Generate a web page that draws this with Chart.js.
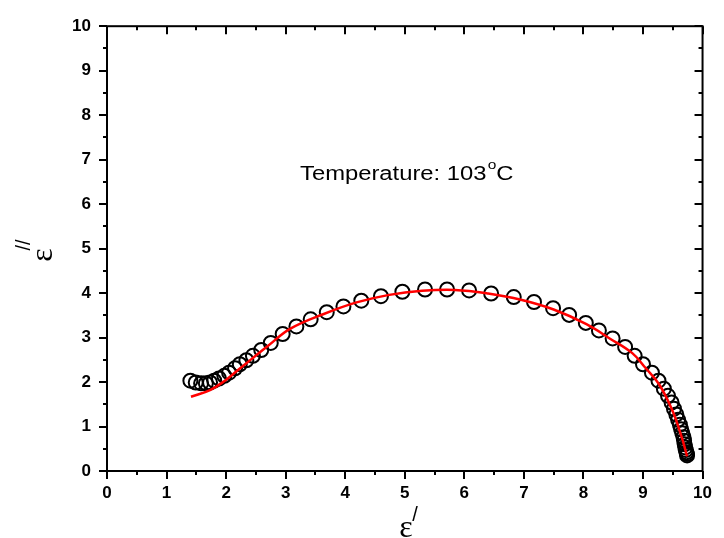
<!DOCTYPE html>
<html lang="en">
<head>
<meta charset="UTF-8">
<title>Cole-Cole plot</title>
<script src="https://cdn.jsdelivr.net/npm/chart.js"></script>
<style>
  html, body { margin: 0; padding: 0; background: #fff; }
  #wrap { width: 724px; height: 538px; }
</style>
</head>
<body>
<div id="wrap"><canvas id="plot" width="724" height="538"></canvas></div>
<script>
// measured permittivity, real part (eps') and imaginary part (eps'')
const epsReal = [1.40, 1.49, 1.58, 1.66, 1.73, 1.80, 1.88, 1.97, 2.05, 2.15, 2.23, 2.34, 2.45, 2.59, 2.75,
  2.95, 3.18, 3.42, 3.69, 3.97, 4.27, 4.60, 4.96, 5.34, 5.71, 6.08, 6.45, 6.83, 7.17, 7.49, 7.76,
  8.04, 8.26, 8.49, 8.70, 8.86, 9.00, 9.15, 9.26, 9.35, 9.42, 9.48, 9.52, 9.56, 9.59, 9.62, 9.64,
  9.66, 9.68, 9.69, 9.70, 9.71, 9.72, 9.73, 9.74, 9.74];
const epsImag = [2.03, 1.99, 1.97, 1.97, 1.99, 2.03, 2.08, 2.14, 2.21, 2.31, 2.40, 2.49, 2.59, 2.72, 2.88,
  3.08, 3.25, 3.41, 3.57, 3.70, 3.83, 3.93, 4.03, 4.08, 4.08, 4.06, 3.99, 3.91, 3.80, 3.66, 3.51,
  3.33, 3.16, 2.98, 2.79, 2.59, 2.40, 2.21, 2.03, 1.85, 1.69, 1.54, 1.40, 1.27, 1.15, 1.04, 0.94,
  0.85, 0.76, 0.68, 0.60, 0.53, 0.47, 0.42, 0.38, 0.35];

// fitted arc
const fitReal = [1.41, 1.73, 1.98, 2.20, 2.42, 2.70, 3.08, 3.64, 4.19, 4.74, 5.29, 5.84, 6.40,
  6.95, 7.50, 8.05, 8.44, 8.82, 9.04, 9.27, 9.49, 9.65, 9.74];
const fitImag = [1.67, 1.82, 2.03, 2.27, 2.51, 2.81, 3.20, 3.53, 3.79, 3.96, 4.05, 4.07, 3.99,
  3.85, 3.63, 3.30, 2.98, 2.65, 2.32, 1.95, 1.37, 0.76, 0.33];

const xTicks = [0, 1, 2, 3, 4, 5, 6, 7, 8, 9, 10];
const yTicks = [0, 1, 2, 3, 4, 5, 6, 7, 8, 9, 10];
const tempText = 'Temperature: 103';

const measured = epsReal.map((v, i) => ({ x: v, y: epsImag[i] }));
const fitted = fitReal.map((v, i) => ({ x: v, y: fitImag[i] }));

const SANS = '"Liberation Sans", Arial, sans-serif';
const tickFont = { family: SANS, size: 17, weight: 'bold' };

// box frame: outward ticks bottom/left, inward ticks top/right, plus labels
const frameAxes = {
  id: 'frameAxes',
  afterDraw(chart) {
    const { ctx, chartArea: a, scales: { x, y } } = chart;
    ctx.save();
    ctx.strokeStyle = '#000';
    ctx.lineWidth = 2;
    ctx.strokeRect(a.left, a.top, a.right - a.left, a.bottom - a.top);
    ctx.beginPath();
    for (let v = 0; v <= 10; v += 0.5) {
      const len = v % 1 === 0 ? 8 : 4;
      const px = Math.round(x.getPixelForValue(v));
      ctx.moveTo(px, a.bottom); ctx.lineTo(px, a.bottom + len);
      ctx.moveTo(px, a.top); ctx.lineTo(px, a.top + len);
      const py = Math.round(y.getPixelForValue(v));
      ctx.moveTo(a.left, py); ctx.lineTo(a.left - len, py);
      ctx.moveTo(a.right, py); ctx.lineTo(a.right - len, py);
    }
    ctx.stroke();

    ctx.fillStyle = '#000';
    ctx.textBaseline = 'alphabetic';
    ctx.textAlign = 'left';
    // annotation, slightly widened
    ctx.save();
    ctx.translate(300, 180);
    ctx.scale(1.19, 1);
    ctx.font = '20px ' + SANS;
    ctx.fillText(tempText, 0, 0);
    let tx = ctx.measureText(tempText).width;
    ctx.font = '13px ' + SANS;
    ctx.fillText('o', tx + 1, -11);
    tx += ctx.measureText('o').width + 1;
    ctx.font = '20px ' + SANS;
    ctx.fillText('C', tx, 0);
    ctx.restore();

    // x axis title: eps'
    ctx.textAlign = 'center';
    ctx.font = '32px "Liberation Serif", serif';
    ctx.fillText('\u03b5', 406, 537);
    ctx.font = '20px ' + SANS;
    ctx.fillText('/', 415, 521);

    // y axis title: eps''
    ctx.save();
    ctx.translate(52, 255);
    ctx.rotate(-Math.PI / 2);
    ctx.font = '32px "Liberation Serif", serif';
    ctx.fillText('\u03b5', 0, 0);
    ctx.font = '20px ' + SANS;
    ctx.fillText('//', 10, -22);
    ctx.restore();
    ctx.restore();
  }
};

new Chart(document.getElementById('plot'), {
  type: 'scatter',
  data: {
    datasets: [
      {
        label: 'fit',
        data: fitted,
        showLine: true,
        borderColor: '#ff0000',
        borderWidth: 2.5,
        pointRadius: 0,
        tension: 0.4,
        order: 0
      },
      {
        label: 'data',
        data: measured,
        showLine: false,
        pointStyle: 'circle',
        pointRadius: 7,
        borderWidth: 2,
        borderColor: '#000',
        backgroundColor: 'rgba(0,0,0,0)',
        order: 1
      }
    ]
  },
  options: {
    responsive: false,
    animation: false,
    devicePixelRatio: 1,
    layout: { padding: { left: 0, top: 22, right: 14, bottom: 0 } },
    plugins: { legend: { display: false }, tooltip: { enabled: false } },
    scales: {
      x: {
        type: 'linear',
        min: 0,
        max: 10,
        afterBuildTicks: s => { s.ticks = xTicks.map(v => ({ value: v })); },
        afterFit: s => { s.height = 67; },
        ticks: { font: tickFont, color: '#000', padding: 12, maxRotation: 0 },
        grid: { display: false, drawTicks: false },
        border: { display: false }
      },
      y: {
        type: 'linear',
        min: 0,
        max: 10,
        afterBuildTicks: s => { s.ticks = yTicks.map(v => ({ value: v })); },
        afterFit: s => { s.width = 107; },
        ticks: { font: tickFont, color: '#000', padding: 16 },
        grid: { display: false, drawTicks: false },
        border: { display: false }
      }
    }
  },
  plugins: [frameAxes]
});
</script>
</body>
</html>
